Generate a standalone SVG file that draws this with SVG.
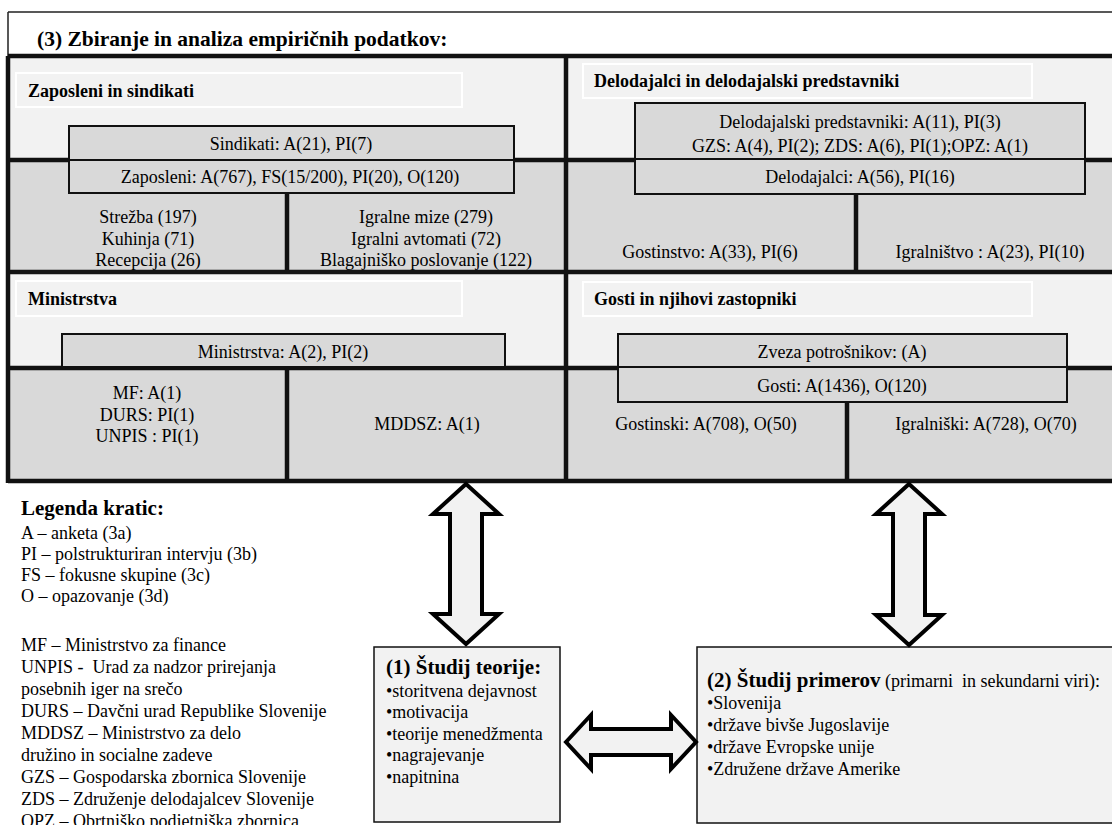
<svg xmlns="http://www.w3.org/2000/svg" width="1112" height="825" viewBox="0 0 1112 825">
  <style>
    text { font-family: "Liberation Serif", "Times New Roman", serif; fill: #000; white-space: pre; }
    .t { font-size: 18px; }
    .c { font-size: 18px; text-anchor: middle; }
    .h { font-size: 18px; font-weight: bold; }
    .title { font-size: 21.5px; font-weight: bold; }
    .bt { font-size: 21px; font-weight: bold; }
    .light { fill: #f2f2f2; }
    .dark { fill: #d9d9d9; }
    .hdr { fill: #f2f2f2; stroke: #ffffff; stroke-width: 2; }
    .sub { fill: #d9d9d9; stroke: #111; stroke-width: 2; }
    .thick { stroke: #111; stroke-width: 4.5; fill: none; }
    .thin { stroke: #222; stroke-width: 1.5; fill: none; }
    .arrow { fill: #f2f2f2; stroke: #000; stroke-width: 4; stroke-linejoin: miter; }
    .box { fill: #f2f2f2; stroke: #111; stroke-width: 1.5; }
  </style>

  <rect width="1112" height="825" fill="#ffffff"/>

  <!-- (3) outer frame: title band and four quadrants -->
  <g id="frame">
    <rect class="light" x="8" y="56" width="1110" height="104"/>
    <rect class="dark" x="8" y="160" width="1110" height="112"/>
    <rect class="light" x="8" y="272" width="1110" height="96"/>
    <rect class="dark" x="8" y="368" width="1110" height="113"/>
    <path class="thin" d="M8,12 H1112 M8,12 V56"/>
    <text class="title" x="37" y="46">(3) Zbiranje in analiza empiričnih podatkov:</text>
    <path class="thick" d="M8,56 H1114 M8,160 H1114 M8,272 H1114 M8,368 H1114 M8,481 H1114 M8,56 V483 M566,56 V481"/>
  </g>

  <!-- Employees and unions -->
  <g id="zaposleni">
    <rect class="hdr" x="16" y="73" width="446" height="34"/>
    <text class="h" x="28" y="97">Zaposleni in sindikati</text>
    <path class="thick" d="M287,193 V272"/>
    <rect class="sub" x="69" y="126" width="445" height="34"/>
    <rect class="sub" x="69" y="160" width="445" height="33"/>
    <text class="c" x="291" y="150">Sindikati: A(21), PI(7)</text>
    <text class="c" x="290" y="183">Zaposleni: A(767), FS(15/200), PI(20), O(120)</text>
    <text class="c" x="148" y="223">Strežba (197)</text>
    <text class="c" x="148" y="245">Kuhinja (71)</text>
    <text class="c" x="148" y="266">Recepcija (26)</text>
    <text class="c" x="426" y="223">Igralne mize (279)</text>
    <text class="c" x="426" y="245">Igralni avtomati (72)</text>
    <text class="c" x="426" y="266">Blagajniško poslovanje (122)</text>
  </g>

  <!-- Employers and their representatives -->
  <g id="delodajalci">
    <rect class="hdr" x="583" y="64" width="449" height="34"/>
    <text class="h" x="594" y="87">Delodajalci in delodajalski predstavniki</text>
    <path class="thick" d="M856,194 V272"/>
    <rect class="sub" x="635" y="103" width="450" height="56"/>
    <rect class="sub" x="635" y="159" width="450" height="35"/>
    <text class="c" x="860" y="128">Delodajalski predstavniki: A(11), PI(3)</text>
    <text class="c" x="860" y="152">GZS: A(4), PI(2); ZDS: A(6), PI(1);OPZ: A(1)</text>
    <text class="c" x="860" y="183">Delodajalci: A(56), PI(16)</text>
    <text class="c" x="710" y="258">Gostinstvo: A(33), PI(6)</text>
    <text class="c" x="990" y="258">Igralništvo : A(23), PI(10)</text>
  </g>

  <!-- Ministries -->
  <g id="ministrstva">
    <rect class="hdr" x="16" y="281" width="446" height="35"/>
    <text class="h" x="28" y="305">Ministrstva</text>
    <path class="thick" d="M287,368 V481"/>
    <rect class="sub" x="62" y="334" width="443" height="33"/>
    <text class="c" x="283" y="358">Ministrstva: A(2), PI(2)</text>
    <text class="c" x="147" y="399">MF: A(1)</text>
    <text class="c" x="147" y="421">DURS: PI(1)</text>
    <text class="c" x="147" y="442">UNPIS : PI(1)</text>
    <text class="c" x="427" y="430">MDDSZ: A(1)</text>
  </g>

  <!-- Guests and their representatives -->
  <g id="gosti">
    <rect class="hdr" x="583" y="282" width="449" height="34"/>
    <text class="h" x="594" y="305">Gosti in njihovi zastopniki</text>
    <path class="thick" d="M847,402 V481"/>
    <rect class="sub" x="618" y="334" width="449" height="33"/>
    <rect class="sub" x="618" y="367" width="449" height="35"/>
    <text class="c" x="842" y="358">Zveza potrošnikov: (A)</text>
    <text class="c" x="842" y="392">Gosti: A(1436), O(120)</text>
    <text class="c" x="706" y="430">Gostinski: A(708), O(50)</text>
    <text class="c" x="986" y="430">Igralniški: A(728), O(70)</text>
  </g>

  <!-- Legend of abbreviations -->
  <g id="legenda">
    <text class="bt" x="21" y="515">Legenda kratic:</text>
    <text class="t" x="21" y="539">A – anketa (3a)</text>
    <text class="t" x="21" y="560">PI – polstrukturiran intervju (3b)</text>
    <text class="t" x="21" y="581">FS – fokusne skupine (3c)</text>
    <text class="t" x="21" y="602">O – opazovanje (3d)</text>
    <text class="t" x="21" y="651">MF – Ministrstvo za finance</text>
    <text class="t" x="21" y="673">UNPIS -  Urad za nadzor prirejanja</text>
    <text class="t" x="21" y="695">posebnih iger na srečo</text>
    <text class="t" x="21" y="717">DURS – Davčni urad Republike Slovenije</text>
    <text class="t" x="21" y="739">MDDSZ – Ministrstvo za delo</text>
    <text class="t" x="21" y="761">družino in socialne zadeve</text>
    <text class="t" x="21" y="783">GZS – Gospodarska zbornica Slovenije</text>
    <text class="t" x="21" y="805">ZDS – Združenje delodajalcev Slovenije</text>
    <text class="t" x="21" y="827">OPZ – Obrtniško podjetniška zbornica</text>
  </g>

  <!-- (1) Theory study -->
  <g id="studij-teorije">
    <rect class="box" x="374" y="647" width="186" height="175"/>
    <text class="bt" x="386" y="674">(1) Študij teorije:</text>
    <text class="t" x="386" y="697">•storitvena dejavnost</text>
    <text class="t" x="386" y="718">•motivacija</text>
    <text class="t" x="386" y="740">•teorije menedžmenta</text>
    <text class="t" x="386" y="761">•nagrajevanje</text>
    <text class="t" x="386" y="783">•napitnina</text>
  </g>

  <!-- (2) Case studies -->
  <g id="studij-primerov">
    <rect class="box" x="697" y="647" width="420" height="176"/>
    <text x="707" y="687"><tspan class="bt">(2) Študij primerov</tspan><tspan class="t"> (primarni  in sekundarni viri):</tspan></text>
    <text class="t" x="707" y="709">•Slovenija</text>
    <text class="t" x="707" y="731">•države bivše Jugoslavije</text>
    <text class="t" x="707" y="753">•države Evropske unije</text>
    <text class="t" x="707" y="775">•Združene države Amerike</text>
  </g>

  <!-- two-way block arrows between the three parts -->
  <g id="connectors">
    <path class="arrow" d="M466,484 L499,514 L482,514 L482,614 L499,614 L466,644 L433,614 L450,614 L450,514 L433,514 Z"/>
    <path class="arrow" d="M909,484 L942,514 L925,514 L925,615 L942,615 L909,645 L876,615 L893,615 L893,514 L876,514 Z"/>
    <path class="arrow" d="M566,742 L591,715 L591,729 L671,729 L671,715 L696,742 L671,769 L671,755 L591,755 L591,769 Z"/>
  </g>
</svg>
